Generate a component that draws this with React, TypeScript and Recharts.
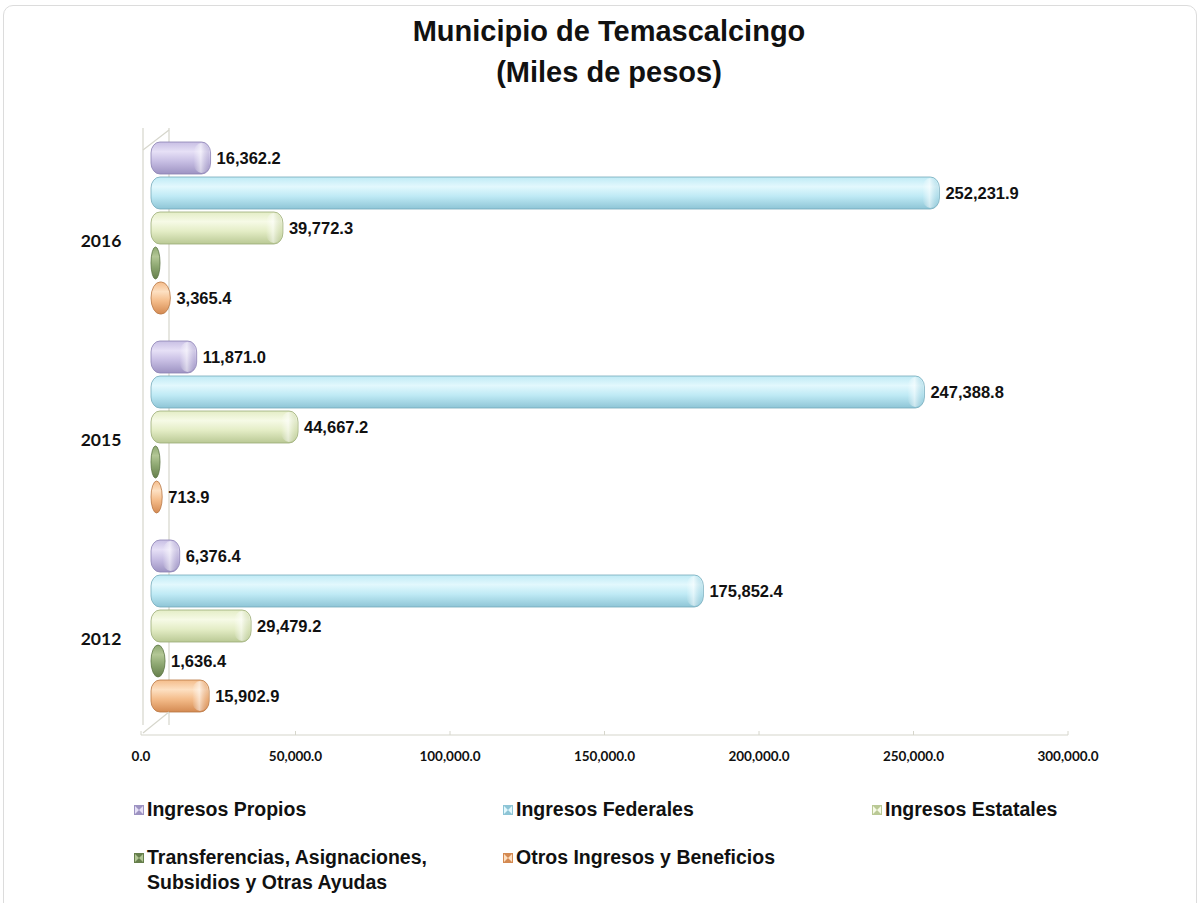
import React from "react";
import { BarChart, Bar, XAxis, YAxis, CartesianGrid, LabelList } from "recharts";

const YEARS = ["2016", "2015", "2012"];
const PROPIOS = [16362.2, 11871.0, 6376.4];
const FEDERALES = [252231.9, 247388.8, 175852.4];
const ESTATALES = [39772.3, 44667.2, 29479.2];
const TRANSFERENCIAS = [0, 0, 1636.4];
const OTROS = [3365.4, 713.9, 15902.9];
const X_TICKS = [0, 50000, 100000, 150000, 200000, 250000, 300000];

type Series = {
  key: string;
  name: string;
  light: string;
  mid: string;
  dark: string;
  edge: string;
};

const SERIES: Series[] = [
  { key: "propios", name: "Ingresos Propios", light: "#e6e0f6", mid: "#c8bfe4", dark: "#9d93c2", edge: "#8a80b2" },
  { key: "federales", name: "Ingresos Federales", light: "#e2f8fd", mid: "#bfeaf5", dark: "#8ec5d6", edge: "#74a9ba" },
  { key: "estatales", name: "Ingresos Estatales", light: "#f6fae6", mid: "#e4edc6", dark: "#bac995", edge: "#9aab76" },
  { key: "transferencias", name: "Transferencias, Asignaciones, Subsidios y Otras Ayudas", light: "#b3c796", mid: "#8ea872", dark: "#667f4c", edge: "#5b7343" },
  { key: "otros", name: "Otros Ingresos y Beneficios", light: "#fde0c2", mid: "#f4bc8a", dark: "#d48a52", edge: "#b87643" },
];

const data = YEARS.map((year, i) => ({
  year,
  propios: PROPIOS[i],
  federales: FEDERALES[i],
  estatales: ESTATALES[i],
  transferencias: TRANSFERENCIAS[i],
  otros: OTROS[i],
}));

const CHART_W = 1201;
const CHART_H = 765;
const TOP = 128;
const PLOT_W = 927;
const FRAME = "#d6d6cc";

const fmt = (v: number) =>
  v.toLocaleString("en-US", { minimumFractionDigits: 1, maximumFractionDigits: 1 });

// horizontal "cylinder" bar, a bit longer than the value so empty series still show a cap
function Cylinder(props: any) {
  const { x, y, height, s } = props;
  const w = Math.max(props.width || 0, 0) + 9;
  const r = Math.min(9, w / 2);
  const ry = w < 20 ? height / 2 : Math.min(height / 2, 11);
  return (
    <g>
      <rect
        x={x}
        y={y}
        width={w}
        height={height}
        rx={r}
        ry={ry}
        fill={`url(#body-${s.key})`}
        stroke={s.edge}
        strokeWidth={0.8}
      />
      {w > 22 && (
        <rect
          x={x + w - 2 * r + 1}
          y={y + 1}
          width={2 * r - 2}
          height={height - 2}
          rx={r - 1}
          ry={ry - 1}
          fill={`url(#cap-${s.key})`}
        />
      )}
    </g>
  );
}

function ValueLabel(props: any) {
  const { x, y, width, height, value } = props;
  if (!value) return null;
  return (
    <text
      x={x + width + 15}
      y={y + height / 2}
      dominantBaseline="central"
      fontFamily="'Liberation Sans', Arial, sans-serif"
      fontWeight={700}
      fontSize={16.5}
      fill="#111"
    >
      {fmt(value)}
    </text>
  );
}

function XTick(props: any) {
  const { x, y, payload, index } = props;
  const fx = x - 10;
  const fy = y + 10;
  return (
    <g>
      {index === 0 && (
        <g stroke={FRAME} strokeWidth={1.2} fill="none">
          <line x1={fx} y1={fy} x2={fx + PLOT_W} y2={fy} />
          <line x1={fx + 2} y1={fy - 2} x2={x + 18} y2={y - 13} />
          <line x1={x - 8} y1={TOP + 22} x2={x + 18} y2={TOP + 2} />
        </g>
      )}
      <line x1={fx} y1={fy} x2={fx} y2={fy - 4} stroke={FRAME} />
      <text
        x={fx}
        y={y + 31}
        textAnchor="middle"
        dominantBaseline="central"
        fontFamily="Lato, sans-serif"
        fontWeight={700}
        fontSize={13.5}
        fill="#111"
      >
        {fmt(payload.value)}
      </text>
    </g>
  );
}

function YTick(props: any) {
  const { y, payload } = props;
  return (
    <text
      x={101}
      y={y + 13}
      textAnchor="middle"
      dominantBaseline="central"
      fontFamily="Lato, sans-serif"
      fontWeight={700}
      fontSize={17.5}
      fill="#111"
    >
      {payload.value}
    </text>
  );
}

function LegendIcon({ s }: { s: Series }) {
  return (
    <svg width={10} height={10} style={{ marginRight: 3, flexShrink: 0, marginTop: 8 }}>
      <rect x={0} y={0} width={10} height={10} fill={s.dark} />
      <polygon points="1,1 5,5 1,9" fill={s.light} />
      <polygon points="9,1 5,5 9,9" fill={s.light} />
    </svg>
  );
}

export default function App() {
  return (
    <div
      style={{
        position: "absolute",
        left: 0,
        top: 0,
        width: 1201,
        height: 903,
        overflow: "hidden",
        background: "#fff",
      }}
    >
      <div
        style={{
          position: "absolute",
          left: 3,
          top: 5,
          width: 1192,
          height: 920,
          border: "1px solid #dcdcdc",
          borderRadius: 10,
        }}
      />
      <div
        style={{
          position: "absolute",
          left: 0,
          top: 11,
          width: 1218,
          textAlign: "center",
          fontFamily: "'Liberation Sans', Arial, sans-serif",
          fontWeight: 700,
          fontSize: 29,
          lineHeight: "41px",
          color: "#111",
        }}
      >
        Municipio de Temascalcingo
        <br />
        (Miles de pesos)
      </div>
      <div style={{ position: "absolute", left: 0, top: 0 }}>
        <BarChart
          width={CHART_W}
          height={CHART_H}
          data={data}
          layout="vertical"
          margin={{ top: TOP, right: CHART_W - 151 - PLOT_W, bottom: 0, left: 0 }}
          barSize={32}
          barGap={3}
        >
          <defs>
            {SERIES.map((s) => (
              <linearGradient key={`b-${s.key}`} id={`body-${s.key}`} x1="0" y1="0" x2="0" y2="1">
                <stop offset="0%" stopColor={s.mid} />
                <stop offset="30%" stopColor={s.light} />
                <stop offset="60%" stopColor={s.mid} />
                <stop offset="100%" stopColor={s.dark} />
              </linearGradient>
            ))}
            {SERIES.map((s) => (
              <linearGradient key={`c-${s.key}`} id={`cap-${s.key}`} x1="0" y1="0" x2="1" y2="0">
                <stop offset="0%" stopColor="#ffffff" stopOpacity={0} />
                <stop offset="45%" stopColor="#ffffff" stopOpacity={0.55} />
                <stop offset="100%" stopColor={s.dark} stopOpacity={0.35} />
              </linearGradient>
            ))}
          </defs>
          <CartesianGrid
            horizontal={false}
            stroke={FRAME}
            strokeWidth={1.2}
            verticalCoordinatesGenerator={({ offset }: any) => [offset.left - 8, offset.left + 18]}
          />
          <XAxis
            type="number"
            domain={[0, 300000]}
            ticks={X_TICKS}
            axisLine={false}
            tickLine={false}
            tickSize={0}
            tickMargin={0}
            height={40}
            tick={<XTick />}
            interval={0}
          />
          <YAxis
            type="category"
            dataKey="year"
            width={151}
            axisLine={false}
            tickLine={false}
            tick={<YTick />}
          />
          {SERIES.map((s) => (
            <Bar
              key={s.key}
              dataKey={s.key}
              name={s.name}
              isAnimationActive={false}
              shape={(p: any) => <Cylinder {...p} s={s} />}
            >
              <LabelList dataKey={s.key} content={<ValueLabel />} />
            </Bar>
          ))}
        </BarChart>
      </div>
      <div
        style={{
          position: "absolute",
          left: 134,
          top: 797,
          display: "grid",
          gridTemplateColumns: "369px 369px 320px",
          rowGap: 23,
          fontFamily: "'Liberation Sans', Arial, sans-serif",
          fontWeight: 700,
          fontSize: 19.5,
          lineHeight: "25px",
          color: "#111",
        }}
      >
        {SERIES.map((s) => (
          <div key={s.key} style={{ display: "flex", alignItems: "flex-start" }}>
            <LegendIcon s={s} />
            <span style={{ width: 310 }}>{s.name}</span>
          </div>
        ))}
      </div>
    </div>
  );
}
